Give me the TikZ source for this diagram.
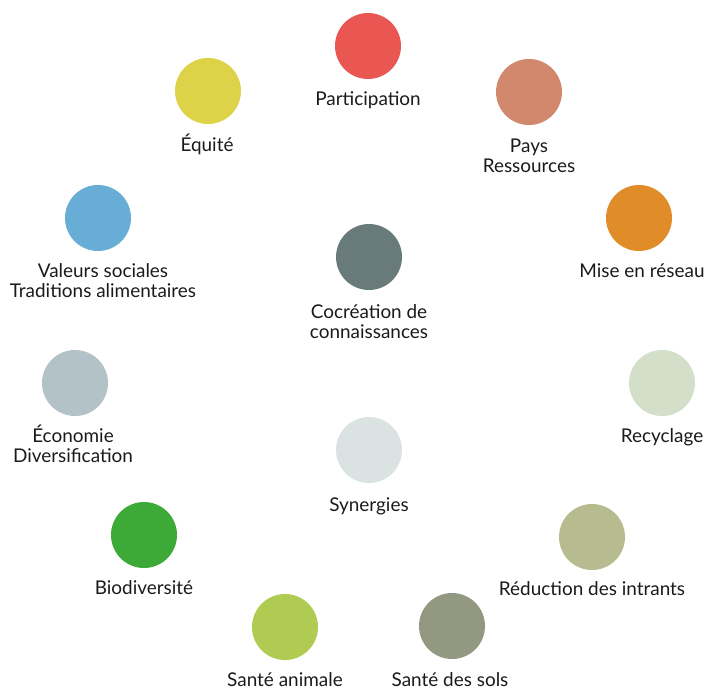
\documentclass[tikz,border=0pt]{standalone}
\usepackage{fontspec}
\setmainfont{Lato}
\definecolor{txt}{HTML}{1A1A1A}
\definecolor{cPart}{HTML}{EA5753}
\definecolor{cEqui}{HTML}{DED249}
\definecolor{cPays}{HTML}{D2886D}
\definecolor{cVale}{HTML}{67ADD5}
\definecolor{cCocr}{HTML}{687B7A}
\definecolor{cMise}{HTML}{E08C28}
\definecolor{cEcon}{HTML}{B3C2C7}
\definecolor{cRecy}{HTML}{D3DFC9}
\definecolor{cSyne}{HTML}{DAE2E2}
\definecolor{cBiod}{HTML}{3DAA38}
\definecolor{cRedu}{HTML}{B6BC90}
\definecolor{cSant}{HTML}{B0CB52}
\definecolor{cSols}{HTML}{929980}
\begin{document}
\begin{tikzpicture}[x=0.75pt,y=-0.75pt,
  dot/.style={circle,minimum size=49.5pt,inner sep=0pt,draw=none},
  lab/.style={font=\fontsize{14.2}{15}\selectfont,text=txt,align=center,anchor=base,inner sep=0pt}]
\useasboundingbox (0,0) rectangle (705,689);
\node[dot,fill=cPart] (part) at (368,46) {};
\node[lab] (partL) at (368,105) {Participation};
\node[dot,fill=cEqui] (equi) at (208,91) {};
\node[lab] (equiL) at (207,151) {Équité};
\node[dot,fill=cPays] (pays) at (529,92) {};
\node[lab] (paysL) at (529,172) {Pays\\Ressources};
\node[dot,fill=cVale] (vale) at (98,218) {};
\node[lab] (valeL) at (103,297) {Valeurs sociales\\Traditions alimentaires};
\node[dot,fill=cCocr] (cocr) at (369,257) {};
\node[lab] (cocrL) at (369,338) {Cocréation de\\connaissances};
\node[dot,fill=cMise] (mise) at (639,218) {};
\node[lab] (miseL) at (642,277) {Mise en réseau};
\node[dot,fill=cEcon] (econ) at (75,383) {};
\node[lab] (econL) at (73,462) {Économie\\Diversification};
\node[dot,fill=cRecy] (recy) at (662,383) {};
\node[lab] (recyL) at (662,442) {Recyclage};
\node[dot,fill=cSyne] (syne) at (369,450) {};
\node[lab] (syneL) at (369,511) {Synergies};
\node[dot,fill=cBiod] (biod) at (144,535) {};
\node[lab] (biodL) at (144,594) {Biodiversité};
\node[dot,fill=cRedu] (redu) at (592,537) {};
\node[lab] (reduL) at (592,595) {Réduction des intrants};
\node[dot,fill=cSant] (sant) at (285,627) {};
\node[lab] (santL) at (285,686.5) {Santé animale};
\node[dot,fill=cSols] (sols) at (452,626) {};
\node[lab] (solsL) at (450,686) {Santé des sols};
\end{tikzpicture}
\end{document}
